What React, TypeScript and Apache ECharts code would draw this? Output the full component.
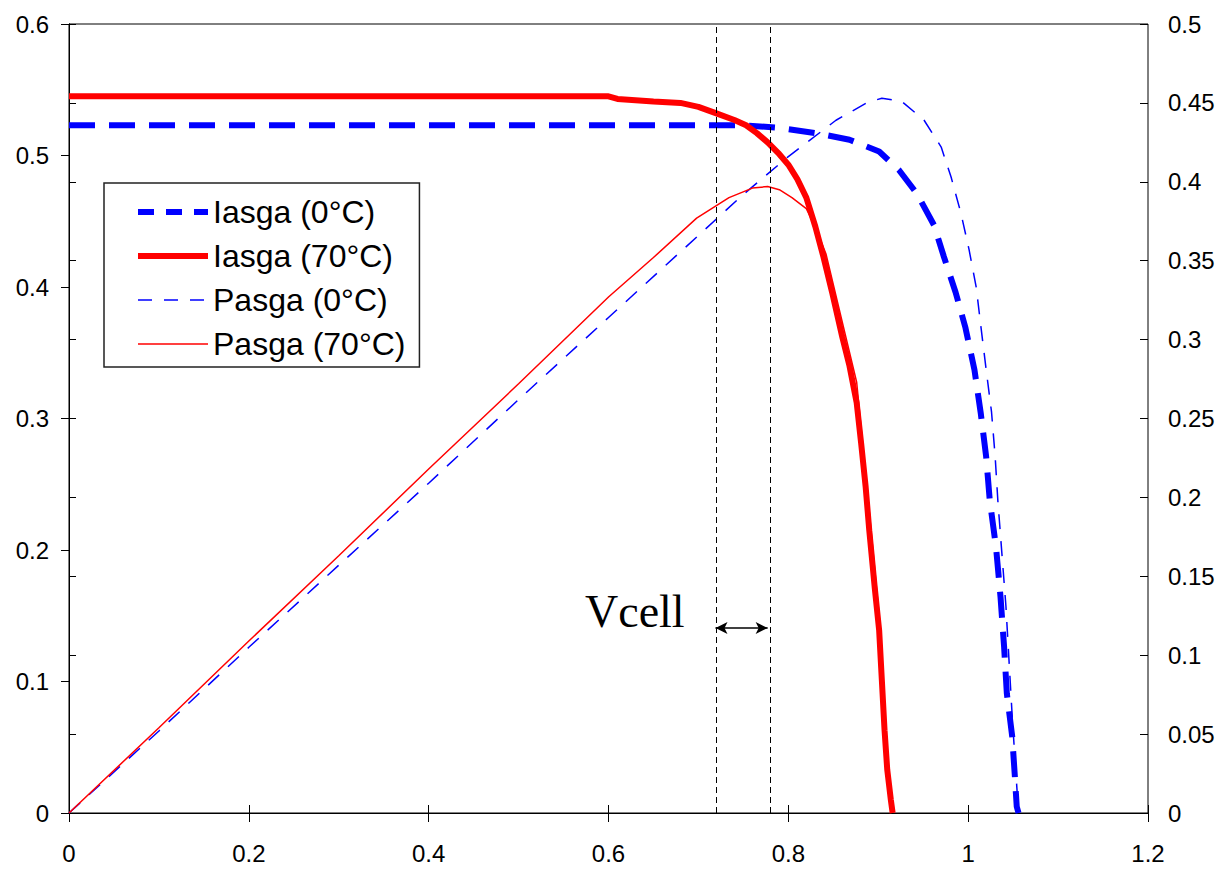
import React, { useEffect, useRef } from "react";
import * as echarts from "echarts";

// Iasga (0°C) — current, left axis
const i0X = [0, 0.1, 0.2, 0.3, 0.4, 0.5, 0.6, 0.7, 0.75, 0.79, 0.831, 0.868, 0.901, 0.923, 0.943, 0.962, 0.973, 0.986, 0.997, 1.007, 1.014, 1.02, 1.024, 1.031, 1.036, 1.04, 1.043, 1.049, 1.052, 1.054, 1.056];
const i0Y = [0.523, 0.523, 0.523, 0.523, 0.523, 0.523, 0.523, 0.523, 0.523, 0.521, 0.517, 0.512, 0.503, 0.489, 0.471, 0.447, 0.423, 0.396, 0.369, 0.337, 0.304, 0.271, 0.238, 0.202, 0.164, 0.126, 0.091, 0.058, 0.027, 0.005, 0];

// Iasga (70°C) — current, left axis
const i70X = [0, 0.1, 0.2, 0.3, 0.4, 0.5, 0.6, 0.61, 0.65, 0.68, 0.7, 0.72, 0.74, 0.753, 0.765, 0.777, 0.79, 0.8, 0.81, 0.82, 0.83, 0.839, 0.849, 0.86, 0.868, 0.876, 0.881, 0.886, 0.89, 0.896, 0.901, 0.904, 0.907, 0.91, 0.914, 0.916];
const i70Y = [0.545, 0.545, 0.545, 0.545, 0.545, 0.545, 0.545, 0.543, 0.541, 0.54, 0.537, 0.532, 0.527, 0.523, 0.517, 0.51, 0.501, 0.493, 0.482, 0.468, 0.446, 0.423, 0.395, 0.362, 0.34, 0.312, 0.281, 0.248, 0.215, 0.172, 0.139, 0.101, 0.063, 0.033, 0.01, 0];

// Pasga (0°C) — power, right axis
const p0X = [0, 0.1, 0.2, 0.3, 0.4, 0.5, 0.6, 0.7, 0.75, 0.8, 0.853, 0.887, 0.904, 0.926, 0.951, 0.97, 0.981, 0.992, 1.001, 1.009, 1.014, 1.02, 1.026, 1.03, 1.033, 1.042, 1.049, 1.056];
const p0Y = [0, 0.052, 0.105, 0.157, 0.209, 0.262, 0.314, 0.366, 0.392, 0.416, 0.439, 0.45, 0.453, 0.451, 0.439, 0.422, 0.403, 0.38, 0.357, 0.333, 0.309, 0.281, 0.254, 0.226, 0.198, 0.131, 0.061, 0];

// Pasga (70°C) — power, right axis
const p70X = [0, 0.1, 0.2, 0.3, 0.4, 0.5, 0.6, 0.65, 0.698, 0.734, 0.76, 0.777, 0.79, 0.804, 0.82, 0.831, 0.842, 0.86, 0.876, 0.89, 0.901, 0.907, 0.916];
const p70Y = [0, 0.054, 0.109, 0.163, 0.218, 0.272, 0.327, 0.352, 0.377, 0.39, 0.396, 0.397, 0.395, 0.39, 0.383, 0.37, 0.354, 0.311, 0.273, 0.191, 0.125, 0.057, 0];

const seriesNames = ["Iasga (0°C)", "Iasga (70°C)", "Pasga (0°C)", "Pasga (70°C)"];
const vcellLines = [0.719, 0.777];
const arrowY = 0.1407;
const vcellLabel = "Vcell";

const pairs = (xs: number[], ys: number[]) => xs.map((x, i) => [x, ys[i]]);

const SANS = "'Liberation Sans', Arial, sans-serif";

export default function App() {
  const ref = useRef<HTMLDivElement>(null);
  useEffect(() => {
    if (!ref.current) return;
    const chart = echarts.init(ref.current, undefined, { renderer: "svg" });
    const axisLabel = { color: "#000", fontSize: 24, fontFamily: SANS };
    const lineBlack = { color: "#000", width: 1 };
    const hidden = { opacity: 0 };
    chart.setOption({
      animation: false,
      backgroundColor: "#fff",
      grid: { left: 69, right: 83, top: 24, bottom: 61, show: true, borderColor: "#000", borderWidth: 1 },
      legend: {
        orient: "vertical",
        left: 104,
        top: 183,
        padding: [12, 14, 6, 31],
        itemWidth: 70,
        itemHeight: 14,
        itemGap: 10,
        backgroundColor: "#fff",
        borderColor: "#222",
        borderWidth: 1.5,
        borderRadius: 0,
        itemStyle: hidden,
        textStyle: { color: "#000", fontSize: 32, fontFamily: SANS, lineHeight: 34 },
        data: [
          { name: seriesNames[0], itemStyle: hidden, lineStyle: { type: [16, 12], width: 6, opacity: 1 } },
          { name: seriesNames[1], itemStyle: hidden, lineStyle: { width: 6, opacity: 1 } },
          { name: seriesNames[2], itemStyle: hidden, lineStyle: { type: [14, 12], width: 1.5, opacity: 1 } },
          { name: seriesNames[3], itemStyle: hidden, lineStyle: { width: 1.5, opacity: 1 } },
        ],
      },
      xAxis: [
        {
          type: "value", min: 0, max: 1.2, interval: 0.2,
          axisLine: { lineStyle: lineBlack },
          axisTick: { show: true, inside: false, length: 9, lineStyle: lineBlack },
          axisLabel: { ...axisLabel, margin: 28 },
          splitLine: { show: false },
        },
        {
          type: "value", min: 0, max: 1.2, interval: 0.2, position: "bottom",
          axisLine: { show: false },
          axisTick: { show: true, inside: true, length: 8, lineStyle: lineBlack },
          axisLabel: { show: false },
          splitLine: { show: false },
        },
      ],
      yAxis: [
        {
          type: "value", min: 0, max: 0.6, interval: 0.1, position: "left",
          axisLine: { show: true, lineStyle: lineBlack },
          axisTick: { show: true, length: 8, lineStyle: lineBlack },
          axisLabel: { ...axisLabel, margin: 20 },
          splitLine: { show: false },
        },
        {
          type: "value", min: 0, max: 0.5, interval: 0.05, position: "right",
          axisLine: { show: true, lineStyle: lineBlack },
          axisTick: { show: true, length: 7, lineStyle: lineBlack },
          axisLabel: { ...axisLabel, margin: 20 },
          splitLine: { show: false },
        },
        {
          type: "value", min: 0, max: 0.5, interval: 0.05, position: "right",
          axisLine: { show: false },
          axisTick: { show: true, inside: true, length: 8, lineStyle: lineBlack },
          axisLabel: { show: false },
          splitLine: { show: false },
        },
      ],
      series: [
        {
          name: seriesNames[0], type: "line", yAxisIndex: 0, symbol: "none", showSymbol: false,
          data: pairs(i0X, i0Y),
          lineStyle: { color: "#0000ff", width: 6, type: [26, 14] },
          itemStyle: { color: "#0000ff" },
          markLine: {
            silent: true, animation: false, symbol: ["arrow", "arrow"], symbolSize: [9, 12],
            label: { show: false },
            lineStyle: { color: "#000", width: 1.5, type: "solid" },
            data: [[{ coord: [vcellLines[0], arrowY] }, { coord: [vcellLines[1], arrowY] }]],
          },
        },
        {
          name: seriesNames[1], type: "line", yAxisIndex: 0, symbol: "none", showSymbol: false,
          data: pairs(i70X, i70Y),
          lineStyle: { color: "#ff0000", width: 6 },
          itemStyle: { color: "#ff0000" },
          markLine: {
            silent: true, animation: false, symbol: ["none", "none"],
            label: { show: false },
            lineStyle: { color: "#000", width: 1, type: [6, 4] },
            data: vcellLines.map((v) => ({ xAxis: v })),
          },
        },
        {
          name: seriesNames[2], type: "line", yAxisIndex: 1, symbol: "none", showSymbol: false,
          data: pairs(p0X, p0Y),
          lineStyle: { color: "#0000ff", width: 1.5, type: [15, 12] },
          itemStyle: { color: "#0000ff" },
        },
        {
          name: seriesNames[3], type: "line", yAxisIndex: 1, symbol: "none", showSymbol: false,
          data: pairs(p70X, p70Y),
          lineStyle: { color: "#ff0000", width: 1.5 },
          itemStyle: { color: "#ff0000" },
        },
      ],
      graphic: [
        {
          type: "text", left: 585, top: 588, silent: true,
          style: { text: vcellLabel, fontSize: 46, fontFamily: "'Liberation Serif', 'Times New Roman', serif", fill: "#000" },
        },
      ],
    });
    return () => chart.dispose();
  }, []);
  return <div ref={ref} style={{ position: "absolute", left: 0, top: 0, width: 1231, height: 874 }} />;
}
